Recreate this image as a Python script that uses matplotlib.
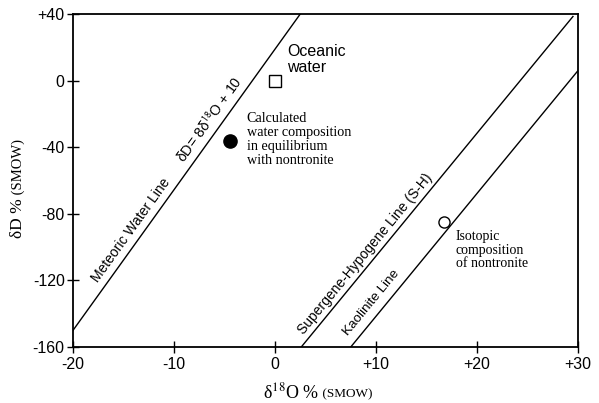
import numpy as np
import matplotlib.pyplot as plt

plt.rcParams['font.family'] = ['Liberation Sans', 'DejaVu Sans']

# reference lines (end points)
meteoric_x = [-20, 2.5]
meteoric_y = [-150, 40]
sh_x = [2.6, 29.5]
sh_y = [-160, 38.5]
kaol_x = [7.5, 30]
kaol_y = [-160, 6]

# points
ocean_x, ocean_y = 0, 0
calc_x, calc_y = -4.5, -36
nontr_x, nontr_y = 16.7, -85

x_ticks = [-20, -10, 0, 10, 20, 30]
x_labels = ['-20', '-10', '0', '+10', '+20', '+30']
y_ticks = [-160, -120, -80, -40, 0, 40]
y_labels = ['-160', '-120', '-80', '-40', '0', '+40']

fig = plt.figure(figsize=(5.99, 4.03), dpi=100)
ax = fig.add_axes([73 / 599, 1 - 347 / 403, 505 / 599, 333 / 403])
ax.set_xlim(-20, 30)
ax.set_ylim(-160, 40)

ax.plot(meteoric_x, meteoric_y, color='black', lw=1.0)
ax.plot(sh_x, sh_y, color='black', lw=1.0)
ax.plot(kaol_x, kaol_y, color='black', lw=1.0)

ax.plot(ocean_x, ocean_y, marker='s', ms=9, mfc='white', mec='black', mew=1.0, ls='none')
ax.plot(calc_x, calc_y, marker='o', ms=9.5, mfc='black', mec='black', ls='none')
ax.plot(nontr_x, nontr_y, marker='o', ms=8, mfc='white', mec='black', mew=1.0, ls='none')

for s in ax.spines.values():
    s.set_linewidth(1.3)
ax.set_xticks(x_ticks)
ax.set_xticklabels(x_labels)
ax.set_yticks(y_ticks)
ax.set_yticklabels(y_labels)
ax.tick_params(direction='inout', length=8, width=1.0, labelsize=11.5, pad=2)
ax.tick_params(axis='x', pad=3)


def line_angle(xs, ys):
    p = ax.transData.transform([[xs[0], ys[0]], [xs[1], ys[1]]])
    return np.degrees(np.arctan2(p[1, 1] - p[0, 1], p[1, 0] - p[0, 0]))


a_met = line_angle(meteoric_x, meteoric_y)
a_sh = line_angle(sh_x, sh_y)
a_ka = line_angle(kaol_x, kaol_y)

ax.text(-14.3, -90, 'Meteoric Water Line', rotation=a_met, rotation_mode='anchor',
        ha='center', va='center', fontsize=10)
ax.text(-6.5, -23.5, r'δD= 8δ$^{18}$O + 10', rotation=a_met, rotation_mode='anchor',
        ha='center', va='center', fontsize=10.3, math_fontfamily='stixsans')
ax.text(8.9, -104, 'Supergene-Hypogene Line (S-H)', rotation=a_sh, rotation_mode='anchor',
        ha='center', va='center', fontsize=10)
ax.text(9.5, -133.5, 'Kaolinite Line', rotation=a_ka, rotation_mode='anchor',
        ha='center', va='center', fontsize=9.7)

ax.text(1.2, 22, 'Oceanic\nwater', ha='left', va='top', fontsize=11.5, linespacing=1.1)
ax.text(-2.8, -19, 'Calculated\nwater composition\nin equilibrium\nwith nontronite',
        ha='left', va='top', fontsize=10.2, family='Liberation Serif', linespacing=1.1)
ax.text(17.9, -90, 'Isotopic\ncomposition\nof nontronite',
        ha='left', va='top', fontsize=10, family='Liberation Serif', linespacing=1.05)

# axis labels: big part + small "(SMOW)"
xl = fig.text(263 / 599, 1 - 402 / 403, r'δ$^{18}$O %', ha='left', va='bottom',
              fontsize=13, family='Liberation Serif', math_fontfamily='stix')
ax.annotate(' (SMOW)', xy=(1, 0), xycoords=xl, ha='left', va='bottom',
            fontsize=9.5, family='Liberation Serif', xytext=(0, 1), textcoords='offset points')
yl = fig.text(10 / 599, 1 - 238 / 403, 'δD %', ha='left', va='bottom', rotation=90,
              fontsize=12.5, family='Liberation Serif')
ax.annotate(' (SMOW)', xy=(1, 1), xycoords=yl, ha='right', va='bottom', rotation=90,
            fontsize=10.5, family='Liberation Serif', xytext=(-1, 0), textcoords='offset points')

fig.savefig('out.png', dpi=100)
